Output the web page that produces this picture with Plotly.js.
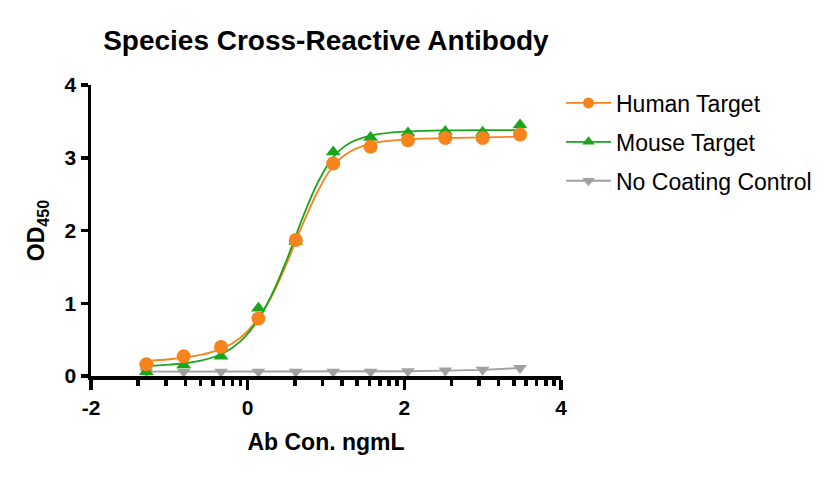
<!DOCTYPE html>
<html>
<head>
<meta charset="utf-8">
<script src="https://cdn.plot.ly/plotly-3.0.1.min.js"></script>
<style>
  html, body { margin: 0; padding: 0; background: #fff; }
  #chart_area { width: 840px; height: 479px; }
</style>
</head>
<body>
<div id="chart_area"></div>
<script>
// log10 of antibody concentration (3-fold dilutions)
var logConc = [-1.294, -0.817, -0.340, 0.137, 0.614, 1.092, 1.569, 2.046, 2.523, 3.000, 3.477];

// measured OD450
var humanOD = [0.16, 0.27, 0.40, 0.79, 1.87, 2.92, 3.15, 3.24, 3.27, 3.27, 3.32];
var mouseOD = [0.06, 0.15, 0.27, 0.93, 1.85, 3.08, 3.28, 3.34, 3.36, 3.35, 3.45];
var controlOD = [0.06, 0.06, 0.06, 0.06, 0.06, 0.06, 0.06, 0.065, 0.075, 0.085, 0.11];

// fitted curves
var curveX = [-1.29, -1.0, -0.6, -0.3, -0.1, 0.1, 0.3, 0.5, 0.7, 0.9, 1.1, 1.3, 1.6, 2.0, 2.5, 3.0, 3.48];
var humanFit = [0.21, 0.23, 0.29, 0.39, 0.52, 0.74, 1.08, 1.55, 2.08, 2.55, 2.90, 3.08, 3.20, 3.25, 3.27, 3.28, 3.29];
var mouseFit = [0.14, 0.155, 0.21, 0.32, 0.47, 0.72, 1.10, 1.60, 2.17, 2.67, 3.02, 3.20, 3.31, 3.36, 3.375, 3.38, 3.38];

var seriesNames = ['Human Target', 'Mouse Target', 'No Coating Control'];

var xTicks = [-2, 0, 2, 4];
var yTicks = [0, 1, 2, 3, 4];

var orange = '#F7831C';
var green = '#1AA51A';
var grey = '#A0A0A0';

// prism style minor ticks, log spaced inside each 2 unit step
var minorVals = [];
[-2, 0, 2].forEach(function (base) {
    for (var k = 2; k <= 9; k++) minorVals.push(base + 2 * Math.log10(k));
});

var data = [
    // fit lines
    {
        x: curveX, y: humanFit, type: 'scatter', mode: 'lines',
        line: { color: orange, width: 1.8, shape: 'spline' },
        showlegend: false, hoverinfo: 'none'
    },
    {
        x: curveX, y: mouseFit, type: 'scatter', mode: 'lines',
        line: { color: green, width: 1.8, shape: 'spline' },
        showlegend: false, hoverinfo: 'none'
    },
    {
        x: logConc, y: controlOD, type: 'scatter', mode: 'lines',
        line: { color: grey, width: 1.8 },
        showlegend: false, hoverinfo: 'none'
    },
    // points
    {
        x: logConc, y: controlOD, type: 'scatter', mode: 'markers',
        marker: { symbol: 'triangle-down', size: 12, color: grey },
        showlegend: false, cliponaxis: false
    },
    {
        x: logConc, y: mouseOD, type: 'scatter', mode: 'markers',
        marker: { symbol: 'triangle-up', size: 13, color: green },
        showlegend: false, cliponaxis: false
    },
    {
        x: logConc, y: humanOD, type: 'scatter', mode: 'markers',
        marker: { symbol: 'circle', size: 14, color: orange },
        showlegend: false, cliponaxis: false
    },
    // legend entries only
    {
        x: [null], y: [null], type: 'scatter', mode: 'lines+markers', name: seriesNames[0],
        legendgroup: 'a', line: { color: orange, width: 1.8 },
        marker: { symbol: 'circle', size: 11, color: orange }
    },
    {
        x: [null], y: [null], type: 'scatter', mode: 'lines+markers', name: seriesNames[1],
        legendgroup: 'b', line: { color: green, width: 1.8 },
        marker: { symbol: 'triangle-up', size: 11, color: green }
    },
    {
        x: [null], y: [null], type: 'scatter', mode: 'lines+markers', name: seriesNames[2],
        legendgroup: 'c', line: { color: grey, width: 1.8 },
        marker: { symbol: 'triangle-down', size: 11, color: grey }
    }
];

var layout = {
    width: 840,
    height: 479,
    margin: { l: 91, r: 279, t: 85, b: 103 },
    paper_bgcolor: '#fff',
    plot_bgcolor: '#fff',
    font: { family: 'Liberation Sans, Arial, sans-serif', color: '#000' },
    title: {
        text: '<b>Species Cross-Reactive Antibody</b>',
        font: { size: 28, color: '#000' },
        x: 0.388, xanchor: 'center', y: 0.916, yanchor: 'middle'
    },
    xaxis: {
        range: [-2, 4],
        tickvals: xTicks,
        ticktext: xTicks.map(function (v) { return '<b>' + v + '</b>'; }),
        ticks: 'outside', ticklen: 10, tickwidth: 3.5, tickcolor: '#000',
        showline: true, linewidth: 3.5, linecolor: '#000',
        showgrid: false, zeroline: false,
        tickfont: { size: 21 },
        minor: { tickmode: 'array', tickvals: minorVals, ticks: 'outside', ticklen: 6, tickwidth: 3.5, tickcolor: '#000', showgrid: false },
        title: { text: '<b>Ab Con. ngmL</b>', font: { size: 23 }, standoff: 17 }
    },
    yaxis: {
        range: [0, 4],
        tickvals: yTicks,
        ticktext: yTicks.map(function (v) { return '<b>' + v + '</b>'; }),
        ticks: 'outside', ticklen: 7, tickwidth: 3.5, tickcolor: '#000',
        showline: true, linewidth: 3.5, linecolor: '#000',
        showgrid: false, zeroline: false,
        tickfont: { size: 21 },
        title: { text: '<b>OD<sub>450</sub></b>', font: { size: 23 }, standoff: 14 }
    },
    showlegend: true,
    legend: {
        x: 1.0, xanchor: 'left', y: 1.012, yanchor: 'top',
        font: { size: 23, color: '#000' },
        itemwidth: 45,
        tracegroupgap: 6,
        bgcolor: 'rgba(0,0,0,0)'
    }
};

var config = { displayModeBar: false, staticPlot: true };

Plotly.newPlot('chart_area', data, layout, config);
</script>
</body>
</html>
